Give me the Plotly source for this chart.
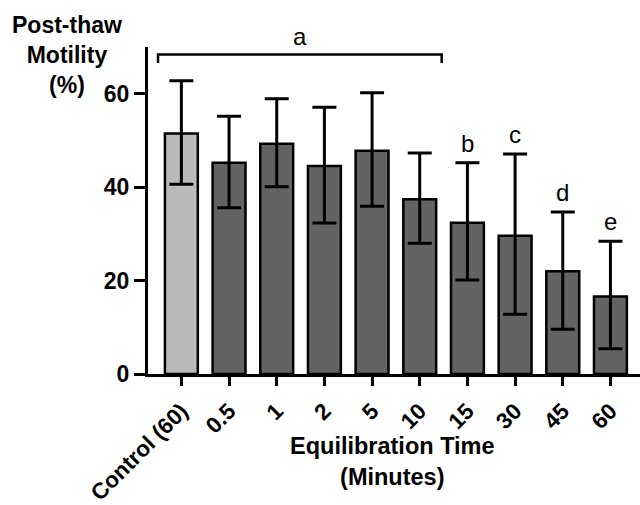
import plotly.graph_objects as go

categories = ["Control (60)", "0.5", "1", "2", "5", "10", "15", "30", "45", "60"]
means = [51.5, 45.2, 49.3, 44.5, 47.8, 37.4, 32.4, 29.6, 22.0, 16.6]
err_upper = [11.3, 10.0, 9.6, 12.6, 12.4, 9.9, 12.8, 17.5, 12.7, 11.8]
err_lower = [10.9, 9.6, 9.2, 12.2, 11.9, 9.4, 12.3, 16.8, 12.4, 11.2]
colors = ["#bababa"] + ["#636363"] * 9
sig_letters = ["", "", "", "", "", "", "b", "c", "d", "e"]
y_ticks = [0, 20, 40, 60]

FONT = "Liberation Sans, Arial, sans-serif"
xs = list(range(len(categories)))

fig = go.Figure()
fig.add_trace(go.Bar(
    x=xs, y=means, width=0.69,
    marker=dict(color=colors, line=dict(color="black", width=2.5)),
    error_y=dict(type="data", symmetric=False, array=err_upper, arrayminus=err_lower,
                 color="black", thickness=3, width=12),
    showlegend=False,
))

for i, (m, u, lt) in enumerate(zip(means, err_upper, sig_letters)):
    if lt:
        fig.add_annotation(x=i, y=m + u, text=lt, showarrow=False, yanchor="bottom",
                           yshift=4, font=dict(family=FONT, size=24, color="black"))

# bracket "a" over groups Control..10
fig.add_trace(go.Scatter(
    x=[-0.49, -0.49, 5.46, 5.46], y=[66.6, 68.4, 68.4, 66.6], mode="lines",
    line=dict(color="black", width=2.5), showlegend=False, hoverinfo="skip"))
fig.add_annotation(x=2.48, y=68.4, text="a", showarrow=False, yanchor="bottom", yshift=2,
                   font=dict(family=FONT, size=24, color="black"))

fig.add_annotation(xref="paper", yref="paper", x=-0.165, y=1.112, xanchor="center", yanchor="top",
                   text="<b>Post-thaw</b><br><b>Motility</b><br><b>(%)</b>", showarrow=False,
                   align="center", font=dict(family=FONT, size=23, color="black"))
fig.add_annotation(xref="paper", yref="paper", x=0.497, y=-0.175, xanchor="center", yanchor="top",
                   text="<b>Equilibration Time</b><br><b>(Minutes)</b>", showarrow=False,
                   align="center", font=dict(family=FONT, size=23.5, color="black"))

fig.update_layout(
    width=640, height=505,
    margin=dict(l=148, r=0, t=47, b=131),
    plot_bgcolor="white", paper_bgcolor="white",
    bargap=0.3,
    xaxis=dict(range=[-0.70, 9.62], tickvals=xs, ticktext=[f"<b>{c}</b>" for c in categories],
               tickangle=-45, showline=True, linewidth=3, linecolor="black",
               ticks="outside", ticklen=9, tickwidth=3, tickcolor="black",
               ticklabelstandoff=3,
               showgrid=False, zeroline=False, automargin=False,
               tickfont=dict(family=FONT, size=22.5, color="black")),
    yaxis=dict(range=[0, 70], tickvals=y_ticks, ticktext=[f"<b>{v}</b>" for v in y_ticks],
               showline=True, linewidth=3, linecolor="black",
               ticks="outside", ticklen=11, tickwidth=3, tickcolor="black",
               showgrid=False, zeroline=False, automargin=False,
               tickfont=dict(family=FONT, size=23, color="black")),
)

fig.write_html("out.html", config={"displayModeBar": False},
               post_script="document.body.style.margin='0px';")
